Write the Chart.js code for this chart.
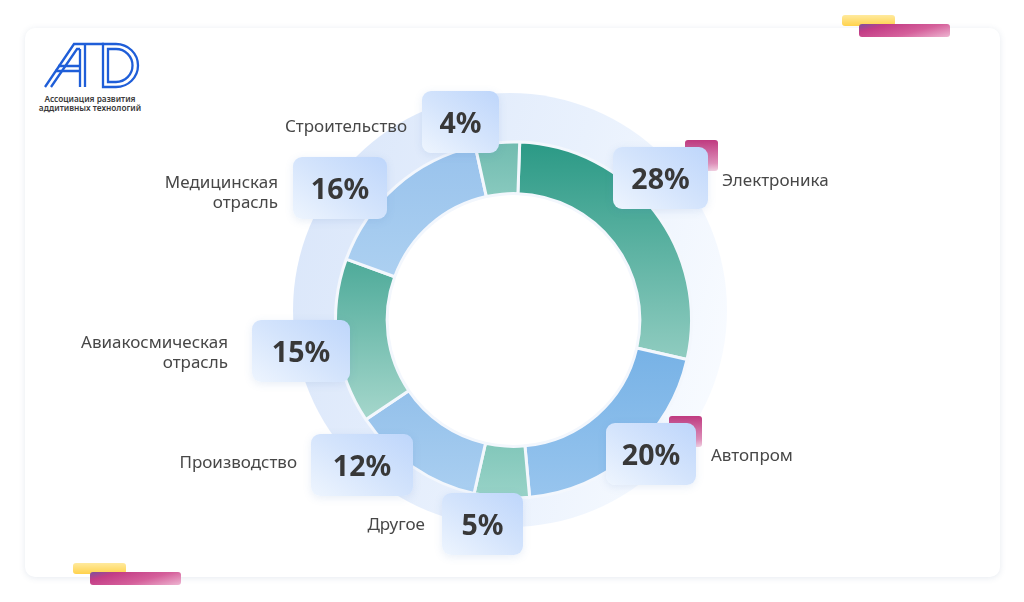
<!DOCTYPE html>
<html><head><meta charset="utf-8">
<script src="https://cdn.jsdelivr.net/npm/chart.js@4.4.1/dist/chart.umd.min.js"></script>
<style>
html,body{margin:0;padding:0;background:#fff;width:1024px;height:602px;overflow:hidden;font-family:'Noto Sans',sans-serif;}
#card{position:absolute;left:25px;top:28px;width:975px;height:549px;background:#fff;border-radius:10px;box-shadow:0 1px 6px rgba(60,90,140,0.13);}
.bar{position:absolute;border-radius:3px;}
.yel{background:linear-gradient(180deg,#ffea9e,#ffd24c);}
.pnk{background:linear-gradient(165deg,#7b4f9e 0%,#c33d86 22%,#d5609b 60%,#eeb6d2 100%);}
#chart{position:absolute;left:0;top:0;}
.badge{position:absolute;height:62px;border-radius:9px;background:linear-gradient(215deg,#bed6fb 0%,#d4e4fc 50%,#eef5fe 100%);box-shadow:0 2px 8px rgba(80,120,190,0.13);display:flex;align-items:center;justify-content:center;font-weight:700;font-size:28.5px;color:#383838;}
.sq{position:absolute;width:33px;height:31px;border-radius:3px;background:linear-gradient(180deg,#bf3a80,#e08fb9 75%,#f2d0e1);}
.lbl{position:absolute;font-size:17px;color:#474747;line-height:20px;white-space:nowrap;transform:translateY(-50%);}
#logoText{position:absolute;left:30px;top:95px;width:120px;text-align:center;font-size:8.3px;line-height:8.5px;font-weight:600;color:#3a3a3a;}
</style></head>
<body>
<div id="card"></div>
<div class="bar yel" style="left:842px;top:15px;width:53px;height:11px"></div>
<div class="bar pnk" style="left:859px;top:24px;width:91px;height:13px"></div>
<div class="bar yel" style="left:73px;top:563px;width:53px;height:11px"></div>
<div class="bar pnk" style="left:90px;top:572px;width:91px;height:13px"></div>
<svg style="position:absolute;left:0;top:0" width="160" height="120">
<g stroke="#1f5ed8" stroke-width="2.3" fill="none">
<path d="M45 87 L74 44 L104 44"/>
<path d="M51 87 L77 49 L80 49"/>
<path d="M58 66 L80 66 M55 71 L80 71"/>
<path d="M80 49 L80 87 M85 44 L85 87"/>
<path d="M103 44 L116 44 A22 21.5 0 0 1 116 87 L103 87 Z"/>
<path d="M108 49 L116 49 A16.5 16.5 0 0 1 116 82 L108 82 Z"/>
</g>
</svg>
<div id="logoText">Ассоциация развития<br>аддитивных технологий</div>
<canvas id="chart" width="1024" height="602"></canvas>
<div id="overlay"></div>
<script>
// ---- data ----
const categories = ['Электроника','Автопром','Другое','Производство','Авиакосмическая отрасль','Медицинская отрасль','Строительство'];
const shares = [28,20,5,12,15,16,4];
const valueLabels = ['28%','20%','5%','12%','15%','16%','4%'];

// ---- styles / layout ----
const segColors = [
  ['#2a9985','#90ccc0'],
  ['#77b2e6','#98c5ee'],
  ['#82c7ba','#99d3c8'],
  ['#93c0ea','#aacff1'],
  ['#4daa99','#a6d7cc'],
  ['#98c2ec','#acd0f1'],
  ['#70bbaf','#88c9be']
];
const ROT = 2;
// badge centre offsets from ring centre, width
const badgeLayout = [[147,-142,95],[137.5,134,90],[-31,203.5,81],[-151.5,145,102],[-212.5,30.5,98],[-173.5,-132.5,94],[-53,-198,77]];
// label anchor offsets from ring centre, align
const labelLayout = [[208.5,-140,'l'],[197.5,135,'l'],[-88.5,204,'r'],[-216.5,142,'r'],[-285.5,32,'r'],[-235.5,-128,'r'],[-106.5,-194,'r']];
const squares = {0:[-23,-7],1:[-27,-7]};

function grad(c){
  const ch=c.chart, a=ch.chartArea, i=c.dataIndex;
  if(!a || i===undefined) return segColors[i||0][0];
  const cx=(a.left+a.right)/2, cy=(a.top+a.bottom)/2;
  const R=Math.min(a.right-a.left,a.bottom-a.top)/2, r=R*0.71;
  const total=shares.reduce((s,v)=>s+v,0);
  let cum=0; for(let k=0;k<i;k++) cum+=shares[k];
  const a0=-Math.PI/2+ROT*Math.PI/180+cum/total*2*Math.PI;
  const a1=a0+shares[i]/total*2*Math.PI;
  let minY=Infinity,maxY=-Infinity;
  for(let s=0;s<=40;s++){const t=a0+(a1-a0)*s/40;for(const rr of [R,r]){const y=cy+rr*Math.sin(t);if(y<minY)minY=y;if(y>maxY)maxY=y;}}
  const g=ch.ctx.createLinearGradient(0,minY,0,maxY);
  g.addColorStop(0,segColors[i][0]); g.addColorStop(1,segColors[i][1]);
  return g;
}

const haloPlugin = {
  id:'halo',
  beforeDatasetsDraw(chart){
    const arc=chart.getDatasetMeta(0).data[0]; if(!arc) return;
    const c=chart.ctx, R=arc.outerRadius, k=R/178;
    const hx=arc.x-3.5*k, hy=arc.y-10*k, hr=217*k;
    c.save();
    const g=c.createLinearGradient(hx-hr,hy-hr*0.3,hx+hr,hy+hr*0.3);
    g.addColorStop(0,'#dbe7fa'); g.addColorStop(0.55,'#e9f1fd'); g.addColorStop(1,'#f8fbff');
    c.fillStyle=g; c.beginPath(); c.arc(hx,hy,hr,0,Math.PI*2); c.fill();
    c.fillStyle='#ffffff'; c.beginPath(); c.arc(arc.x,arc.y,arc.innerRadius,0,Math.PI*2); c.fill();
    c.restore();
  }
};

const chart = new Chart(document.getElementById('chart'), {
  type:'doughnut',
  data:{labels:categories,datasets:[{data:shares,backgroundColor:grad,borderColor:'#f3f7fd',borderWidth:3,hoverOffset:0}]},
  options:{responsive:false,animation:false,rotation:ROT,cutout:'71%',
    layout:{padding:{left:334,right:331,top:140.5,bottom:102.5}},
    plugins:{legend:{display:false},tooltip:{enabled:false}},events:[]},
  plugins:[haloPlugin]
});

// ---- overlay badges and labels ----
const arc0=chart.getDatasetMeta(0).data[0];
const cx=arc0.x, cy=arc0.y;
const ov=document.getElementById('overlay');
categories.forEach((name,i)=>{
  const [dx,dy,w]=badgeLayout[i];
  const left=cx+dx-w/2, top=cy+dy-31;
  if(squares[i]){
    const s=document.createElement('div'); s.className='sq';
    s.style.left=(left+w+squares[i][0])+'px'; s.style.top=(top+squares[i][1])+'px';
    ov.appendChild(s);
  }
  const b=document.createElement('div'); b.className='badge';
  b.style.left=left+'px'; b.style.top=top+'px'; b.style.width=w+'px';
  b.textContent=valueLabels[i]; ov.appendChild(b);
  const [lx,ly,al]=labelLayout[i];
  const l=document.createElement('div'); l.className='lbl';
  l.innerHTML=name.split(' ').join('<br>');
  l.style.top=(cy+ly)+'px';
  if(al==='l'){l.style.left=(cx+lx)+'px';l.style.textAlign='left';}
  else{l.style.right=(1024-(cx+lx))+'px';l.style.textAlign='right';}
  ov.appendChild(l);
});
</script>
</body></html>
